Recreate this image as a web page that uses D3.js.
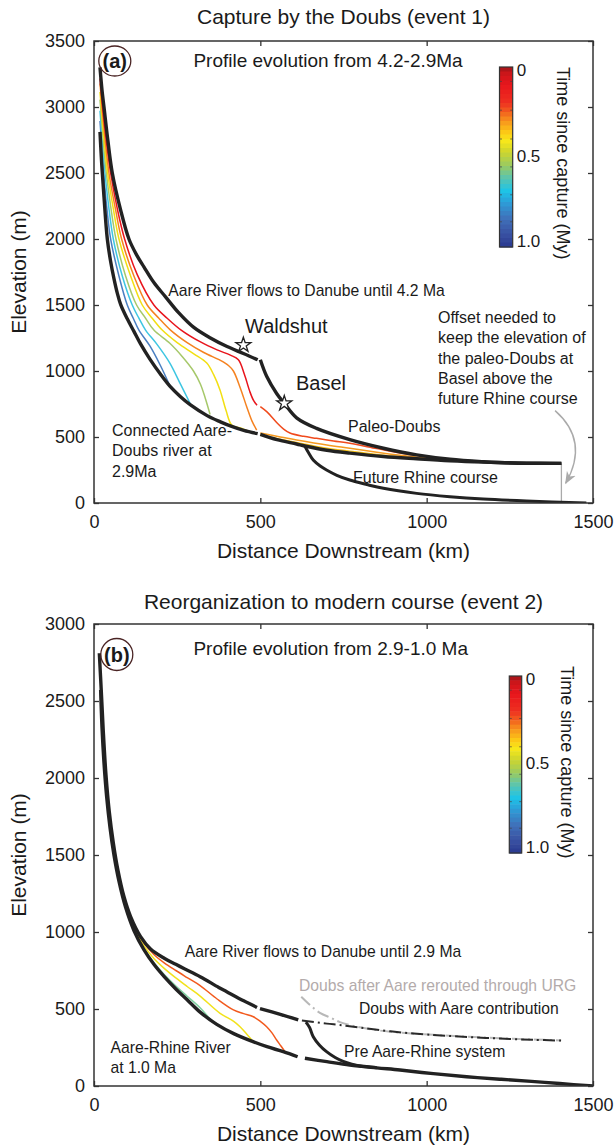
<!DOCTYPE html>
<html><head><meta charset="utf-8">
<script src="https://cdn.jsdelivr.net/npm/d3@7/dist/d3.min.js"></script>
<style>
body{margin:0;background:#fff}
text{font-family:"Liberation Sans",Arial,Helvetica,sans-serif;fill:#1a1a1a}
</style>
</head><body>
<svg id="c" width="614" height="1145"></svg>
<script>
// ---------------- DATA ----------------
const xTicks = [0, 500, 1000, 1500];
const yTicksA = [0, 500, 1000, 1500, 2000, 2500, 3000, 3500];
const yTicksB = [0, 500, 1000, 1500, 2000, 2500, 3000];
const cbTicks = [0, 0.5, 1.0];
const cbTickLabels = ["0", "0.5", "1.0"];
const cbStopVals = [0, 0.03, 0.1, 0.2, 0.25, 0.3, 0.36, 0.41, 0.47, 0.55, 0.62, 0.69, 0.76, 0.84, 0.92, 1.0];
const cbStopCols = ["#9c1418","#c8161a","#e8161c","#ee3020","#f2601e","#f7941d","#fcc616","#f8e81a","#cfd62c","#98ca62","#58c4b2","#1cc4e8","#2e9ad6","#3f72ba","#3a54a4","#2a3990"];

// Panel (a): distance (km), elevation (m)
const aUpper1 = [[18,3300],[24,3130],[30,3000],[42,2740],[55,2500],[80,2220],[105,2000],[128,1880],[150,1789],[180,1670],[215,1562],[255,1440],[300,1330],[350,1250],[400,1185],[449,1133],[492,1085]];
const aUpper2 = [[500,1085],[519,960],[549,830],[572,755],[609,645],[669,565],[769,480],[870,415],[970,365],[1070,332],[1170,313],[1250,303],[1405,300]];
const aLower1 = [[18,2811],[22,2620],[25,2500],[30,2320],[40,2000],[50,1830],[60,1700],[70,1590],[80,1505],[100,1395],[120,1300],[140,1205],[168,1090],[200,975],[228,885],[260,805],[289,745],[340,662],[380,615],[414,580],[450,550],[492,525]];
const aLower2 = [[500,520],[550,480],[609,447],[634,432],[700,400],[769,378],[870,352],[970,335],[1070,320],[1170,310],[1300,302],[1405,300]];
const aRhine = [[634,430],[645,380],[659,325],[680,280],[699,250],[730,210],[769,174],[820,140],[870,111],[970,73],[1070,48],[1170,30],[1300,15],[1480,0]];
const aRed1 = [[18,3217],[30,2900],[50,2500],[70,2230],[92,2000],[130,1730],[180,1500],[220,1400],[262,1310],[320,1220],[370,1160],[410,1120],[434,1085],[452,975],[469,840],[480,775],[490,740]];
const aRed2 = [[500,730],[520,690],[549,610],[570,560],[589,530],[630,505],[669,490],[720,470],[769,452],[850,412],[920,378],[1000,350]];
const aOrange1 = [[18,3178],[30,2840],[45,2500],[65,2220],[83,2000],[120,1720],[160,1500],[195,1400],[230,1310],[280,1215],[330,1140],[380,1080],[405,1040],[419,1000],[440,870],[459,729],[475,620],[489,553]];
const aOrange2 = [[500,530],[560,500],[609,478],[700,440],[769,415],[850,385],[920,362],[1000,340]];
const aYellow1 = [[18,3114],[30,2760],[41,2500],[58,2230],[75,2000],[110,1720],[145,1500],[175,1400],[205,1310],[250,1215],[300,1130],[339,1060],[360,970],[379,855],[397,700],[414,591],[440,568],[470,540],[490,528]];
const aYellow2 = [[500,515],[609,458],[700,415],[769,393],[850,368],[950,343]];
const aYG = [[18,3056],[30,2680],[37,2500],[50,2250],[66,2000],[95,1720],[128,1500],[155,1400],[180,1310],[228,1210],[265,1110],[299,1000],[320,900],[335,790],[349,670]];
const aCyan = [[18,2972],[26,2700],[33,2500],[44,2250],[58,2000],[85,1720],[115,1500],[135,1400],[155,1310],[190,1200],[228,1060],[260,900],[289,754]];
const aBlue = [[18,2894],[24,2680],[29,2500],[38,2250],[50,2000],[75,1720],[100,1500],[118,1400],[135,1310],[168,1190],[200,1040],[228,888]];
const aStars = [[449,1197],[572,755]];
const aOffset = [[1405,300],[1405,0]];

// Panel (b)
const bUpper1 = [[16,2810],[22,2560],[28,2300],[36,2020],[46,1780],[58,1580],[72,1400],[90,1230],[110,1100],[140,970],[170,890],[211,830],[246,790],[273,760],[319,710],[375,640],[399,612],[450,553],[490,510]];
const bUpper2 = [[499,503],[560,465],[614,429]];
const bDoubsAare = [[625,425],[700,405],[739,396],[800,380],[891,355],[1020,331],[1126,318],[1220,308],[1320,300],[1404,295]];
const bDoubsURG = [[623,580],[650,525],[679,475],[715,440],[739,415],[780,390],[840,366],[891,352],[1020,332],[1126,320],[1220,310],[1320,302],[1404,296]];
const bLower1 = [[20,2571],[24,2330],[30,2100],[38,1880],[48,1680],[60,1500],[75,1330],[95,1160],[120,1010],[150,885],[180,790],[211,710],[246,630],[280,560],[319,480],[369,400],[420,340],[478,288],[520,255],[569,223],[612,190]];
const bLower2 = [[634,180],[700,158],[769,136],[850,118],[920,104],[1020,80],[1120,60],[1220,44],[1315,30],[1400,16],[1500,0]];
const bPreAare = [[637,415],[648,380],[659,320],[678,265],[699,223],[725,185],[749,160],[775,142],[800,130],[850,118]];
const bOrange = [[20,2625],[30,2198],[48,1730],[75,1362],[95,1188],[120,1045],[150,929],[180,854],[211,800],[246,750],[280,704],[319,652],[370,565],[419,494],[450,470],[479,450],[500,420],[519,385],[535,345],[549,299],[562,260],[574,223]];
const bYellow = [[20,2603],[30,2159],[48,1710],[75,1349],[95,1177],[120,1031],[150,911],[180,828],[211,764],[246,702],[280,646],[319,584],[379,472],[420,420],[439,385],[460,335],[479,288]];
const bGreen = [[20,2580],[30,2116],[48,1688],[75,1335],[95,1165],[120,1016],[150,892],[180,800],[211,724],[246,649],[280,583],[319,508],[345,445],[369,400]];

// ---------------- DRAW ----------------
const svg = d3.select("#c");
const FONT = '"Liberation Sans",Arial,Helvetica,sans-serif';
const BLACK = "#222";
const cbColor = d3.scaleLinear().domain(cbStopVals).range(cbStopCols).interpolate(d3.interpolateRgb);

function txt(g, x, y, s, size, opts = {}) {
  const t = g.append("text").attr("x", x).attr("y", y).attr("font-size", size)
    .attr("text-anchor", opts.anchor || "start").text(s);
  if (opts.weight) t.attr("font-weight", opts.weight);
  if (opts.fill) t.style("fill", opts.fill);
  if (opts.rotate != null) t.attr("transform", `rotate(${opts.rotate},${x},${y})`);
  return t;
}

function drawPanel(cfg) {
  const L = 94, R = 593;
  const x = d3.scaleLinear().domain([0, 1500]).range([L, R]);
  const y = d3.scaleLinear().domain([0, cfg.ymax]).range([cfg.bottom, cfg.top]);
  const g = svg.append("g");
  const clipId = "clip" + cfg.id;
  svg.append("clipPath").attr("id", clipId).append("rect")
    .attr("x", L).attr("y", cfg.top).attr("width", R - L).attr("height", cfg.bottom - cfg.top);
  const lineGen = d3.line().x(d => x(d[0])).y(d => y(d[1])).curve(d3.curveCatmullRom.alpha(0.5));
  const plot = g.append("g").attr("clip-path", `url(#${clipId})`);

  cfg.series.forEach(s => {
    const p = plot.append("path").attr("d", lineGen(s.data)).attr("fill", "none")
      .attr("stroke", s.color).attr("stroke-width", s.width).attr("stroke-linecap", "butt");
    if (s.dash) p.attr("stroke-dasharray", s.dash);
  });

  // axes
  const ax = g.append("g").attr("transform", `translate(0,${cfg.bottom})`)
    .call(d3.axisBottom(x).tickValues(xTicks).tickSizeInner(-5).tickSizeOuter(0).tickPadding(12).tickFormat(d3.format("d")));
  const ay = g.append("g").attr("transform", `translate(${L},0)`)
    .call(d3.axisLeft(y).tickValues(cfg.yTicks).tickSizeInner(-5).tickSizeOuter(0).tickPadding(9).tickFormat(d3.format("d")));
  const at = g.append("g").attr("transform", `translate(0,${cfg.top})`)
    .call(d3.axisTop(x).tickValues(xTicks).tickSizeInner(-5).tickSizeOuter(0).tickFormat(""));
  const ar = g.append("g").attr("transform", `translate(${R},0)`)
    .call(d3.axisRight(y).tickValues(cfg.yTicks).tickSizeInner(-5).tickSizeOuter(0).tickFormat(""));
  [ax, ay, at, ar].forEach(a => {
    a.select(".domain").remove();
    a.selectAll("line").attr("stroke", "#333").attr("stroke-width", 1.3);
    a.selectAll("text").attr("font-size", 18).attr("font-family", FONT).style("fill", "#1a1a1a");
  });
  g.append("rect").attr("x", L).attr("y", cfg.top).attr("width", R - L).attr("height", cfg.bottom - cfg.top)
    .attr("fill", "none").attr("stroke", "#333").attr("stroke-width", 1.5);

  // colorbar
  const cb = cfg.cb;
  const nb = 40;
  const cbScale = d3.scaleLinear().domain([0, 1]).range([cb.top, cb.bottom]);
  for (let i = 0; i < nb; i++) {
    g.append("rect").attr("x", cb.x).attr("width", cb.w)
      .attr("y", cbScale(i / nb)).attr("height", (cb.bottom - cb.top) / nb + 0.5)
      .attr("fill", cbColor((i + 0.5) / nb));
  }
  [0.08, 0.24, 0.40, 0.555, 0.71, 0.86].forEach(v => {
    g.append("line").attr("x1", cb.x).attr("x2", cb.x + 2.5).attr("y1", cbScale(v)).attr("y2", cbScale(v)).attr("stroke", "#444").attr("stroke-width", 0.7);
    g.append("line").attr("x1", cb.x + cb.w - 2.5).attr("x2", cb.x + cb.w).attr("y1", cbScale(v)).attr("y2", cbScale(v)).attr("stroke", "#444").attr("stroke-width", 0.7);
  });
  g.append("rect").attr("x", cb.x).attr("y", cb.top).attr("width", cb.w).attr("height", cb.bottom - cb.top)
    .attr("fill", "none").attr("stroke", "#333").attr("stroke-width", 1.2);
  const cbLab = d3.scaleLinear().domain([0, 1]).range([cb.top + 3, cb.bottom - 6]);
  cbTicks.forEach((v, i) => txt(g, cb.x + cb.w + 4, cbLab(v) + 6, cbTickLabels[i], 17));
  txt(g, cb.lx, cb.ly, "Time since capture (My)", 18, { rotate: 90 });

  // panel label
  g.append("ellipse").attr("cx", cfg.lab.cx).attr("cy", cfg.lab.cy).attr("rx", 16).attr("ry", cfg.lab.ry)
    .attr("fill", "none").attr("stroke", "#4a2424").attr("stroke-width", 1.3);
  txt(g, cfg.lab.cx, cfg.lab.cy + 7, cfg.lab.t, 20, { anchor: "middle", weight: "bold" });

  // titles
  txt(g, (L + R) / 2, cfg.titleY, cfg.title, 21, { anchor: "middle" });
  txt(g, (L + R) / 2, cfg.bottom + 55, "Distance Downstream (km)", 21, { anchor: "middle" });
  txt(g, 26, (cfg.top + cfg.bottom) / 2, "Elevation (m)", 21, { anchor: "middle", rotate: -90 });
  txt(g, 193.4, cfg.top + (cfg.id === "a" ? 25.7 : 31), cfg.sub, 19);
  return { g, x, y };
}

// ---- Panel (a)
const A = drawPanel({
  id: "a", ymax: 3500, top: 41, bottom: 503, yTicks: yTicksA,
  title: "Capture by the Doubs (event 1)", titleY: 24,
  sub: "Profile evolution from 4.2-2.9Ma",
  cb: { x: 499.5, w: 13.2, top: 67, bottom: 247, lx: 557, ly: 67 },
  lab: { cx: 114.8, cy: 61, ry: 15, t: "(a)" },
  series: [
    { data: aBlue, color: "#4a7fc2", width: 1.5 },
    { data: aCyan, color: "#3ec6e2", width: 1.5 },
    { data: aYG, color: "#a6c86a", width: 1.5 },
    { data: aYellow1, color: "#f2df12", width: 1.5 },
    { data: aYellow2, color: "#f6c21a", width: 1.5 },
    { data: aOrange1, color: "#f58220", width: 1.5 },
    { data: aOrange2, color: "#f59a20", width: 1.5 },
    { data: aRed1, color: "#e8141c", width: 1.5 },
    { data: aRed2, color: "#f04a1c", width: 1.5 },
    { data: aOffset, color: "#aaa", width: 1.3 },
    { data: aUpper1, color: BLACK, width: 3.4 },
    { data: aUpper2, color: BLACK, width: 3.4 },
    { data: aLower1, color: BLACK, width: 3.4 },
    { data: aLower2, color: BLACK, width: 3.4 },
    { data: aRhine, color: BLACK, width: 3.0 }
  ]
});
{
  const g = A.g, x = A.x, y = A.y;
  g.selectAll(".star").data(aStars).enter().append("path")
    .attr("d", d3.symbol(d3.symbolStar, 70)())
    .attr("transform", d => `translate(${x(d[0])},${y(d[1])})`)
    .attr("fill", "#fff").attr("stroke", "#222").attr("stroke-width", 1.3);
  const defs = svg.append("defs");
  defs.append("marker").attr("id", "arr").attr("viewBox", "0 0 10 10").attr("refX", 9).attr("refY", 5)
    .attr("markerWidth", 9).attr("markerHeight", 9).attr("orient", "auto-start-reverse")
    .append("path").attr("d", "M0,1 L10,5 L0,9 L3,5 Z").attr("fill", "#aaa");
  const pth = d3.path();
  pth.moveTo(x(1386), y(700));
  pth.quadraticCurveTo(x(1490), y(470), x(1418), y(150));
  g.append("path").attr("d", pth.toString()).attr("fill", "none").attr("stroke", "#aaa")
    .attr("stroke-width", 1.4).attr("marker-end", "url(#arr)");
  txt(g, 168.3, 296, "Aare River flows to Danube until 4.2 Ma", 15.7);
  txt(g, 245, 333.3, "Waldshut", 20);
  txt(g, 296, 390, "Basel", 20);
  txt(g, 348, 431.7, "Paleo-Doubs", 16);
  txt(g, 353, 483, "Future Rhine course", 16);
  ["Offset needed to", "keep the elevation of", "the paleo-Doubs at", "Basel above the", "future Rhine course"]
    .forEach((s, i) => txt(g, 438, 322.7 + i * 20.4, s, 16));
  ["Connected Aare-", "Doubs river at", "2.9Ma"].forEach((s, i) => txt(g, 112, 436 + i * 20.4, s, 16));
}

// ---- Panel (b)
const B = drawPanel({
  id: "b", ymax: 3000, top: 624, bottom: 1086, yTicks: yTicksB,
  title: "Reorganization to modern course (event 2)", titleY: 609,
  sub: "Profile evolution from 2.9-1.0 Ma",
  cb: { x: 509.3, w: 12.4, top: 676, bottom: 853, lx: 561, ly: 666 },
  lab: { cx: 116.8, cy: 654.5, ry: 16, t: "(b)" },
  series: [
    { data: bGreen, color: "#7fd0a0", width: 1.5 },
    { data: bYellow, color: "#f2e21b", width: 1.5 },
    { data: bOrange, color: "#f25a1e", width: 1.5 },
    { data: bDoubsURG, color: "#b8b8b8", width: 2.0, dash: "12,4,2,4" },
    { data: bDoubsAare, color: "#2a2a2a", width: 2.0, dash: "12,4,2,4" },
    { data: bUpper1, color: BLACK, width: 3.4 },
    { data: bUpper2, color: BLACK, width: 3.4 },
    { data: bLower1, color: BLACK, width: 3.4 },
    { data: bLower2, color: BLACK, width: 3.4 },
    { data: bPreAare, color: BLACK, width: 3.0 }
  ]
});
{
  const g = B.g;
  txt(g, 184.8, 957.3, "Aare River flows to Danube until 2.9 Ma", 15.7);
  txt(g, 299, 990.5, "Doubs after Aare rerouted through URG", 15.7, { fill: "#b3abab" });
  txt(g, 359, 1014.3, "Doubs with Aare contribution", 15.7);
  txt(g, 344, 1057, "Pre Aare-Rhine system", 15.7);
  txt(g, 110.5, 1052.7, "Aare-Rhine River", 15.7);
  txt(g, 110.5, 1072.7, "at 1.0 Ma", 15.7);
}
</script>
</body></html>
